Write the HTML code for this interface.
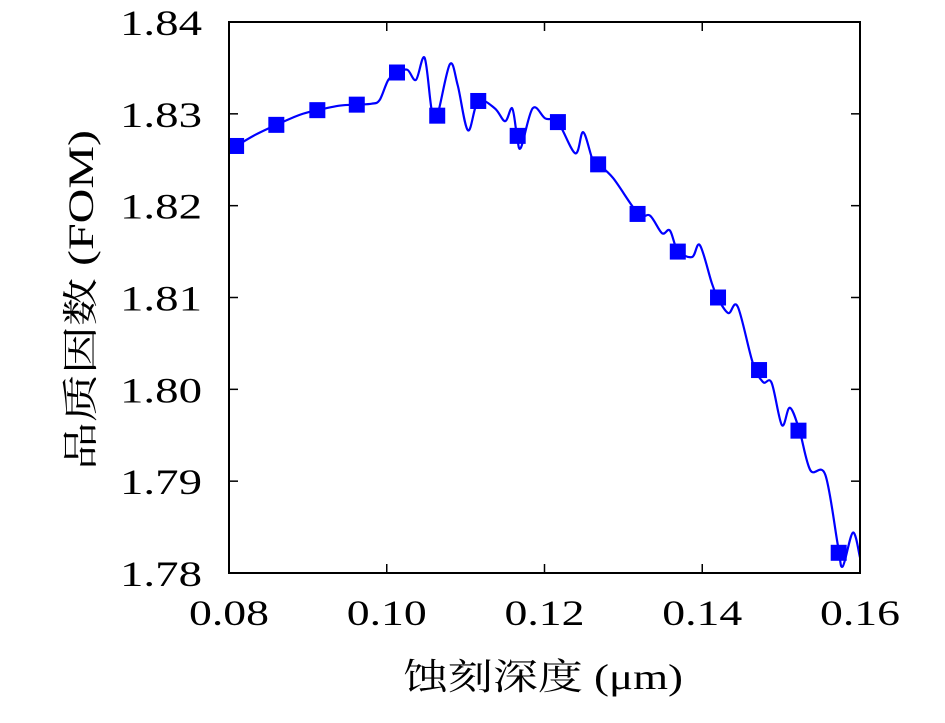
<!DOCTYPE html>
<html><head><meta charset="utf-8"><style>
body{margin:0;background:#fff;}
svg text{font-family:"Liberation Serif","Noto Serif CJK SC",serif;fill:#000;}
</style></head><body>
<svg id="chart" width="945" height="718" xmlns="http://www.w3.org/2000/svg"></svg>
<script>
const xTicks=[0.08,0.10,0.12,0.14,0.16];
const xTickLabels=["0.08","0.10","0.12","0.14","0.16"];
const yTicks=[1.78,1.79,1.80,1.81,1.82,1.83,1.84];
const yTickLabels=["1.78","1.79","1.80","1.81","1.82","1.83","1.84"];
const markerX=[0.0809,0.0860,0.0912,0.0962,0.1013,0.1064,0.1116,0.1166,0.1217,0.1268,0.1318,0.1369,0.1420,0.1472,0.1522,0.1573];
const markerY=[1.8265,1.8288,1.8304,1.8310,1.8345,1.8298,1.8314,1.8276,1.8291,1.8245,1.8191,1.8150,1.8100,1.8021,1.7955,1.7822];
const lineX=[0.0800,0.0809,0.0833,0.0860,0.0890,0.0912,0.0941,0.0962,0.0981,0.0991,0.1002,0.1013,0.1026,0.1037,0.1048,0.1057,0.1064,0.1080,0.1090,0.1103,0.1116,0.1137,0.1150,0.1159,0.1165,0.1170,0.1185,0.1201,0.1217,0.1239,0.1249,0.1261,0.1268,0.1287,0.1319,0.1334,0.1349,0.1359,0.1369,0.1387,0.1397,0.1412,0.1420,0.1433,0.1445,0.1464,0.1477,0.1488,0.1501,0.1511,0.1523,0.1537,0.1556,0.1572,0.1578,0.1591,0.1600];
const lineY=[1.8261,1.8265,1.8277,1.8288,1.8299,1.8304,1.8309,1.8310,1.8311,1.8315,1.8337,1.8344,1.8348,1.8337,1.8361,1.8304,1.8298,1.8354,1.8331,1.8282,1.8314,1.8306,1.8292,1.8306,1.8277,1.8263,1.8306,1.8295,1.8291,1.8257,1.8280,1.8250,1.8245,1.8230,1.8191,1.8189,1.8170,1.8173,1.8151,1.8144,1.8157,1.8116,1.8099,1.8083,1.8090,1.8029,1.8008,1.8007,1.7961,1.7980,1.7956,1.7912,1.7907,1.7830,1.7807,1.7844,1.7817];

const L=229,R=860,T=22,B=573;
const sx=v=>L+(v-0.08)/0.08*(R-L);
const sy=v=>B-(v-1.78)/0.06*(B-T);
const svg=document.getElementById('chart');
const NS="http://www.w3.org/2000/svg";
function mk(tag,attrs,parent){const e=document.createElementNS(NS,tag);for(const k in attrs)e.setAttribute(k,attrs[k]);(parent||svg).appendChild(e);return e;}

const defs=mk('defs',{});const cp=mk('clipPath',{id:'clip'},defs);mk('rect',{x:L,y:T,width:R-L,height:B-T},cp);

const pts=lineX.map((x,i)=>[sx(x),sy(lineY[i])]);
let d=`M${pts[0][0]},${pts[0][1]}`;
for(let i=0;i<pts.length-1;i++){const p0=pts[i-1]||pts[i],p1=pts[i],p2=pts[i+1],p3=pts[i+2]||p2;
d+=` C${p1[0]+(p2[0]-p0[0])/6},${p1[1]+(p2[1]-p0[1])/6} ${p2[0]-(p3[0]-p1[0])/6},${p2[1]-(p3[1]-p1[1])/6} ${p2[0]},${p2[1]}`;}
const line=mk('path',{d:d,fill:'none',stroke:'#0000ff','stroke-width':2.2,'clip-path':'url(#clip)'});



markerX.forEach((x,i)=>{const r=mk('rect',{x:sx(x)-8,y:sy(markerY[i])-8,width:16,height:16,fill:'#0000ff'});

});

const fr=mk('rect',{x:L,y:T,width:R-L,height:B-T,fill:'none',stroke:'#000','stroke-width':2});



xTicks.forEach((v,i)=>{const x=sx(v);
mk('line',{x1:x,y1:B,x2:x,y2:B-9,stroke:'#000','stroke-width':1.5});
mk('line',{x1:x,y1:T,x2:x,y2:T+9,stroke:'#000','stroke-width':1.5});
const t=mk('text',{x:x-40,y:625,'font-size':36,textLength:80,lengthAdjust:'spacingAndGlyphs'});t.textContent=xTickLabels[i];

});
yTicks.forEach((v,i)=>{const y=sy(v);
mk('line',{x1:L,y1:y,x2:L+9,y2:y,stroke:'#000','stroke-width':1.5});
mk('line',{x1:R,y1:y,x2:R-9,y2:y,stroke:'#000','stroke-width':1.5});
const t=mk('text',{x:120,y:y+13,'font-size':36,textLength:82,lengthAdjust:'spacingAndGlyphs'});t.textContent=yTickLabels[i];

});

const xt=mk('text',{x:403,y:689,'font-size':36,textLength:280,lengthAdjust:'spacingAndGlyphs'});xt.textContent='蚀刻深度 (μm)';


const yt=mk('text',{x:-170,y:0,'font-size':36,textLength:340,lengthAdjust:'spacingAndGlyphs',transform:'translate(93,300) rotate(-90)'});yt.textContent='品质因数 (FOM)';


</script>
</body></html>
